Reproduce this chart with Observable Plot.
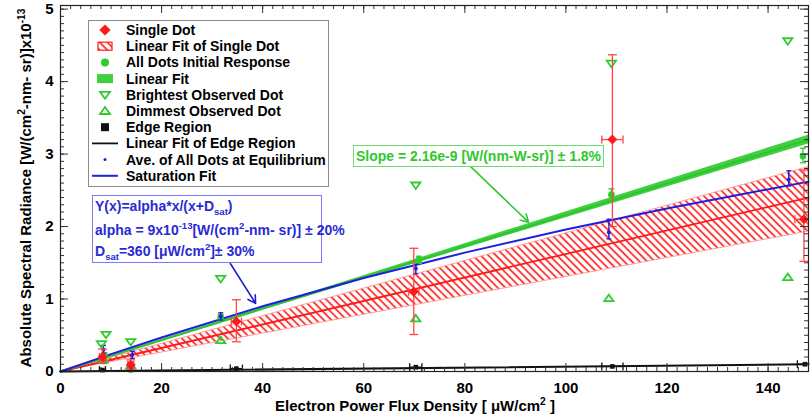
<!DOCTYPE html>
<html><head><meta charset="utf-8">
<script src="https://cdn.jsdelivr.net/npm/d3@7"></script>
<script src="https://cdn.jsdelivr.net/npm/@observablehq/plot@0.6"></script>
<style>body{margin:0;background:#fff}</style>
</head><body><div id="chart"></div>
<script>
// ---------- tick labels ----------
const xTicks = [0, 20, 40, 60, 80, 100, 120, 140];
const yTicks = [0, 1, 2, 3, 4, 5];
const xMinor = d3.range(0, 149, 2);
const yMinor = d3.range(0, 5.05, 0.1);

// ---------- Single Dot (red diamonds) ----------
const sdX    = [8.3, 13.9, 34.8, 69.9, 109.2, 147.1];
const sdY    = [0.20, 0.09, 0.69, 1.10, 3.20, 2.10];
const sdYlo  = [0.11, 0.03, 0.41, 0.51, 2.00, 1.52];
const sdYhi  = [0.31, 0.16, 0.99, 1.70, 4.37, 2.78];
const sdXerr = [0.6, 0.6, 1.0, 1.0, 2.1, 1.8];

// ---------- All Dots Initial Response (green circles) ----------
const irX   = [8.7, 13.9, 31.7, 70.9, 109.0, 146.9];
const irY   = [0.22, 0.10, 0.75, 1.54, 2.44, 2.97];
const irYlo = [0.18, 0.07, 0.71, 1.49, 2.35, 2.88];
const irYhi = [0.26, 0.13, 0.79, 1.59, 2.52, 3.08];

// ---------- Ave. of All Dots at Equilibrium (blue) ----------
const eqX   = [8.5, 14.2, 31.7, 70.3, 108.5, 144.1];
const eqY   = [0.30, 0.23, 0.76, 1.42, 1.92, 2.65];
const eqYlo = [0.25, 0.18, 0.71, 1.35, 1.83, 2.56];
const eqYhi = [0.36, 0.28, 0.81, 1.48, 2.10, 2.77];

// ---------- Brightest / Dimmest observed dot ----------
const brX = [8.1, 9.0, 13.9, 31.7, 70.3, 109.0, 143.9];
const brY = [0.38, 0.51, 0.41, 1.28, 2.57, 4.25, 4.56];
const dmX = [8.5, 13.9, 31.7, 70.3, 108.5, 143.9];
const dmY = [0.16, 0.08, 0.43, 0.73, 1.01, 1.30];

// ---------- Edge Region (black squares) ----------
const edX    = [8.3, 13.9, 34.8, 70.3, 109.2, 147.3];
const edY    = [0.02, 0.02, 0.04, 0.06, 0.07, 0.10];
const edXerr = [0.6, 0.6, 1.2, 1.2, 2.1, 1.5];

// ---------- Fits ----------
const fitX      = [0, 148];
const greenFit  = [0, 3.20];
const greenLo   = [0, 3.14];
const greenHi   = [0, 3.26];
const redFit    = [0, 2.40];
const redLo     = [0, 1.93];
const redHi     = [0, 2.82];
const edgeFit   = [0, 0.10];
const satX = [0, 10, 20, 40, 60, 80, 100, 120, 148];
const satY = [0, 0.24, 0.47, 0.90, 1.29, 1.64, 1.96, 2.25, 2.62];

// ---------- annotation arrows (data coords) ----------
const arrX1 = [33.6, 81.1], arrY1 = [1.49, 2.83];
const arrX2 = [38.6, 92.6], arrY2 = [0.94, 2.06];
const arrC  = ["#1f1fd6", "#2ec82e"];

// ---------- build tables ----------
const sd = sdX.map((x, i) => ({x, y: sdY[i], lo: sdYlo[i], hi: sdYhi[i], xl: x - sdXerr[i], xr: x + sdXerr[i]}));
const ir = irX.map((x, i) => ({x, y: irY[i], lo: irYlo[i], hi: irYhi[i]}));
const eq = eqX.map((x, i) => ({x, y: eqY[i], lo: eqYlo[i], hi: eqYhi[i]}));
const br = brX.map((x, i) => ({x, y: brY[i]}));
const dm = dmX.map((x, i) => ({x, y: dmY[i]}));
const ed = edX.map((x, i) => ({x, y: edY[i], xl: x - edXerr[i], xr: x + edXerr[i]}));
const fit = fitX.map((x, i) => ({x, g: greenFit[i], gLo: greenLo[i], gHi: greenHi[i], r: redFit[i], rLo: redLo[i], rHi: redHi[i], e: edgeFit[i]}));
const sat = satX.map((x, i) => ({x, y: satY[i]}));
const arrows = arrX1.map((x, i) => ({x1: x, y1: arrY1[i], x2: arrX2[i], y2: arrY2[i], c: arrC[i]}));

// ---------- custom symbols ----------
const rad = s => Math.sqrt(s / Math.PI);
const capH = {draw(c, s) { const r = rad(s); c.moveTo(-r, 0); c.lineTo(r, 0); }};
const capV = {draw(c, s) { const r = rad(s); c.moveTo(0, -r); c.lineTo(0, r); }};
const triDown = {draw(c, s) { const r = rad(s); c.moveTo(-r, -r * 0.6); c.lineTo(r, -r * 0.6); c.lineTo(0, r * 0.8); c.closePath(); }};
const triUp = {draw(c, s) { const r = rad(s); c.moveTo(-r, r * 0.6); c.lineTo(r, r * 0.6); c.lineTo(0, -r * 0.8); c.closePath(); }};

const RED = "#ff1a1a", REDE = "#ff4444", GREEN = "#2ecc2e", BLUE = "#1f1fe0";
const W = 810, H = 417, mL = 60, mR = 2, mT = 5, mB = 46;
const pw = W - mL - mR, ph = H - mT - mB;
const TK = "#333";

const chart = Plot.plot({
  width: W, height: H,
  marginLeft: mL, marginRight: mR, marginTop: mT, marginBottom: mB,
  style: {fontFamily: "'Liberation Sans', Arial, sans-serif", background: "white", color: "black"},
  x: {domain: [0, 148]},
  y: {domain: [0, 5.05]},
  marks: [
    // fit bands and lines
    Plot.areaY(fit, {x: "x", y1: "rLo", y2: "rHi", fill: "#fe0001", stroke: "#ff9f9f", strokeWidth: 1}),
    Plot.line(fit, {x: "x", y: "r", stroke: RED, strokeWidth: 1.8}),
    Plot.areaY(fit, {x: "x", y1: "gLo", y2: "gHi", fill: "#3fcf3f"}),
    Plot.line(fit, {x: "x", y: "g", stroke: "#30c430", strokeWidth: 2}),
    Plot.line(sat, {x: "x", y: "y", stroke: BLUE, strokeWidth: 2}),
    Plot.line(fit, {x: "x", y: "e", stroke: "#111", strokeWidth: 2}),

    // edge region
    Plot.ruleY(ed, {y: "y", x1: "xl", x2: "xr", stroke: "#111", strokeWidth: 1.3, clip: true}),
    Plot.dot(ed, {x: "xl", y: "y", symbol: capV, r: 4, stroke: "#111", strokeWidth: 1.3, fill: "none", clip: true}),
    Plot.dot(ed, {x: "xr", y: "y", symbol: capV, r: 4, stroke: "#111", strokeWidth: 1.3, fill: "none", clip: true}),
    Plot.dot(ed, {x: "x", y: "y", symbol: "square", r: 2.6, fill: "#111", stroke: "none"}),

    // initial response
    Plot.ruleX(ir, {x: "x", y1: "lo", y2: "hi", stroke: GREEN, strokeWidth: 1.3}),
    Plot.dot(ir, {x: "x", y: "lo", symbol: capH, r: 3, stroke: GREEN, strokeWidth: 1.3, fill: "none"}),
    Plot.dot(ir, {x: "x", y: "hi", symbol: capH, r: 3, stroke: GREEN, strokeWidth: 1.3, fill: "none"}),
    Plot.dot(ir, {x: "x", y: "y", r: 3.3, fill: GREEN, stroke: "none"}),

    // equilibrium average
    Plot.ruleX(eq, {x: "x", y1: "lo", y2: "hi", stroke: BLUE, strokeWidth: 1.5}),
    Plot.dot(eq, {x: "x", y: "lo", symbol: capH, r: 2.5, stroke: BLUE, strokeWidth: 1.3, fill: "none"}),
    Plot.dot(eq, {x: "x", y: "hi", symbol: capH, r: 2.5, stroke: BLUE, strokeWidth: 1.3, fill: "none"}),
    Plot.dot(eq, {x: "x", y: "y", r: 2, fill: BLUE, stroke: "none"}),

    // brightest / dimmest
    Plot.dot(br, {x: "x", y: "y", symbol: triDown, r: 4.6, stroke: GREEN, strokeWidth: 1.8, fill: "none"}),
    Plot.dot(dm, {x: "x", y: "y", symbol: triUp, r: 4.6, stroke: GREEN, strokeWidth: 1.8, fill: "none"}),

    // single dot
    Plot.ruleX(sd, {x: "x", y1: "lo", y2: "hi", stroke: REDE, strokeWidth: 1.3}),
    Plot.dot(sd, {x: "x", y: "lo", symbol: capH, r: 4.5, stroke: REDE, strokeWidth: 1.3, fill: "none"}),
    Plot.dot(sd, {x: "x", y: "hi", symbol: capH, r: 4.5, stroke: REDE, strokeWidth: 1.3, fill: "none"}),
    Plot.ruleY(sd, {y: "y", x1: "xl", x2: "xr", stroke: REDE, strokeWidth: 1.3, clip: true}),
    Plot.dot(sd, {x: "xl", y: "y", symbol: capV, r: 4, stroke: REDE, strokeWidth: 1.3, fill: "none", clip: true}),
    Plot.dot(sd, {x: "xr", y: "y", symbol: capV, r: 4, stroke: REDE, strokeWidth: 1.3, fill: "none", clip: true}),
    Plot.dot(sd, {x: "x", y: "y", symbol: "diamond2", r: 4.5, fill: RED, stroke: "none"}),

    // annotation arrows
    Plot.arrow(arrows, {x1: "x1", y1: "y1", x2: "x2", y2: "y2", stroke: "c", strokeWidth: 1.6, headLength: 8}),

    // ticks (inward) on all four sides
    Plot.ruleX(xMinor, {x: d => d, insetTop: ph - 4, stroke: TK}),
    Plot.ruleX(xTicks, {x: d => d, insetTop: ph - 8, stroke: TK}),
    Plot.ruleX(xMinor, {x: d => d, insetBottom: ph - 4, stroke: TK}),
    Plot.ruleX(xTicks, {x: d => d, insetBottom: ph - 8, stroke: TK}),
    Plot.ruleY(yMinor, {y: d => d, insetRight: pw - 4, stroke: TK}),
    Plot.ruleY(yTicks, {y: d => d, insetRight: pw - 8, stroke: TK}),
    Plot.ruleY(yMinor, {y: d => d, insetLeft: pw - 4, stroke: TK}),
    Plot.ruleY(yTicks, {y: d => d, insetLeft: pw - 8, stroke: TK}),
    Plot.frame({stroke: "#222", strokeWidth: 1.2}),

    Plot.axisX(xTicks, {tickSize: 0, tickPadding: 11, fontSize: 15, fontWeight: "bold", label: null, tickFormat: d => String(d)}),
    Plot.axisY(yTicks, {tickSize: 0, tickPadding: 7, fontSize: 15, fontWeight: "bold", label: null, tickFormat: d => String(d)})
  ]
});
document.getElementById("chart").appendChild(chart);

const svg = d3.select(chart);

// hatch pattern
const defs = svg.insert("defs", ":first-child");
const pat = defs.append("pattern").attr("id", "hatch").attr("patternUnits", "userSpaceOnUse")
  .attr("width", 5.4).attr("height", 10).attr("patternTransform", "rotate(-45)");
pat.append("line").attr("x1", 2.7).attr("x2", 2.7).attr("y1", 0).attr("y2", 10)
  .attr("stroke", "#ff3a3a").attr("stroke-width", 1.9);
svg.selectAll("[fill='#fe0001']").attr("fill", "url(#hatch)");

const FONT = "'Liberation Sans', Arial, sans-serif";
function rich(g, x, y, parts, opts = {}) {
  const t = g.append("text").attr("x", x).attr("y", y)
    .attr("font-family", FONT).attr("font-weight", "bold")
    .attr("font-size", opts.size || 14).attr("fill", opts.fill || "black")
    .attr("text-anchor", opts.anchor || "start");
  if (opts.transform) t.attr("transform", opts.transform);
  let shift = 0;
  for (const p of parts) {
    const s = typeof p === "string" ? {t: p, d: 0} : p;
    const ts = t.append("tspan").text(s.t).attr("dy", s.d - shift);
    if (s.d !== 0) ts.attr("font-size", (opts.size || 14) * 0.68);
    shift = s.d;
  }
  return t;
}

// axis titles
rich(svg, 415, 411, ["Electron Power Flux Density [ μW/cm", {t: "2", d: -6}, " ]"], {size: 15, anchor: "middle"});
rich(svg, 0, 0, ["Absolute Spectral Radiance [W/(cm", {t: "2", d: -6}, "-nm- sr)]x10", {t: "-13", d: -6}],
  {size: 15, anchor: "middle", transform: "translate(31,188) rotate(-90)"});

// legend
const lg = svg.append("g");
lg.append("rect").attr("x", 88.5).attr("y", 20.5).attr("width", 240).attr("height", 166)
  .attr("fill", "white").attr("stroke", "#8a8a8a").attr("stroke-width", 1);
const labels = ["Single Dot", "Linear Fit of Single Dot", "All Dots Initial Response", "Linear Fit",
  "Brightest Observed Dot", "Dimmest Observed Dot", "Edge Region", "Linear Fit of Edge Region",
  "Ave. of All Dots at Equilibrium", "Saturation Fit"];
const ly = i => 30 + i * 16.2;
labels.forEach((s, i) => rich(lg, 126, ly(i) + 5, [s], {size: 14}));
const sx = 105;
const symPath = (sym, r) => { const p = d3.path(); sym.draw(p, Math.PI * r * r); return p.toString(); };
lg.append("path").attr("d", d3.symbol(d3.symbolDiamond2, 80)()).attr("transform", `translate(${sx},${ly(0)})`).attr("fill", RED);
lg.append("rect").attr("x", sx - 7).attr("y", ly(1) - 4).attr("width", 14).attr("height", 8).attr("fill", "url(#hatch)").attr("stroke", RED).attr("stroke-width", 1.2);
lg.append("circle").attr("cx", sx).attr("cy", ly(2)).attr("r", 4).attr("fill", GREEN);
lg.append("rect").attr("x", sx - 8).attr("y", ly(3) - 4.5).attr("width", 16).attr("height", 9).attr("fill", "#3fcf3f");
lg.append("path").attr("d", symPath(triDown, 5)).attr("transform", `translate(${sx},${ly(4)})`)
  .attr("fill", "none").attr("stroke", GREEN).attr("stroke-width", 1.8);
lg.append("path").attr("d", symPath(triUp, 5)).attr("transform", `translate(${sx},${ly(5)})`)
  .attr("fill", "none").attr("stroke", GREEN).attr("stroke-width", 1.8);
lg.append("rect").attr("x", sx - 4).attr("y", ly(6) - 4).attr("width", 8).attr("height", 8).attr("fill", "#111");
lg.append("line").attr("x1", 92).attr("x2", 118).attr("y1", ly(7)).attr("y2", ly(7)).attr("stroke", "#111").attr("stroke-width", 1.8);
lg.append("circle").attr("cx", sx).attr("cy", ly(8)).attr("r", 1.5).attr("fill", BLUE);
lg.append("line").attr("x1", 92).attr("x2", 118).attr("y1", ly(9)).attr("y2", ly(9)).attr("stroke", BLUE).attr("stroke-width", 2);

// blue saturation-fit box
const bb = svg.append("g");
bb.append("rect").attr("x", 92.5).attr("y", 195.5).attr("width", 229).attr("height", 67)
  .attr("fill", "white").attr("stroke", "#7878ff").attr("stroke-width", 1);
const BT = "#2a2ad4";
rich(bb, 95, 211, ["Y(x)=alpha*x/(x+D", {t: "sat", d: 4}, ")"], {fill: BT});
rich(bb, 95, 235, ["alpha = 9x10", {t: "-13", d: -6}, "[W/(cm", {t: "2", d: -6}, "-nm- sr)] ± 20%"], {fill: BT});
rich(bb, 95, 256, ["D", {t: "sat", d: 4}, "=360 [μW/cm", {t: "2", d: -6}, "]± 30%"], {fill: BT});

// green slope box
const gb = svg.append("g");
gb.append("rect").attr("x", 353.5).attr("y", 145.5).attr("width", 250).attr("height", 21)
  .attr("fill", "white").attr("stroke", "#6fdc6f").attr("stroke-width", 1);
rich(gb, 356, 161, ["Slope = 2.16e-9 [W/(nm-W-sr)] ± 1.8%"], {fill: "#2ec82e"});
</script></body></html>
